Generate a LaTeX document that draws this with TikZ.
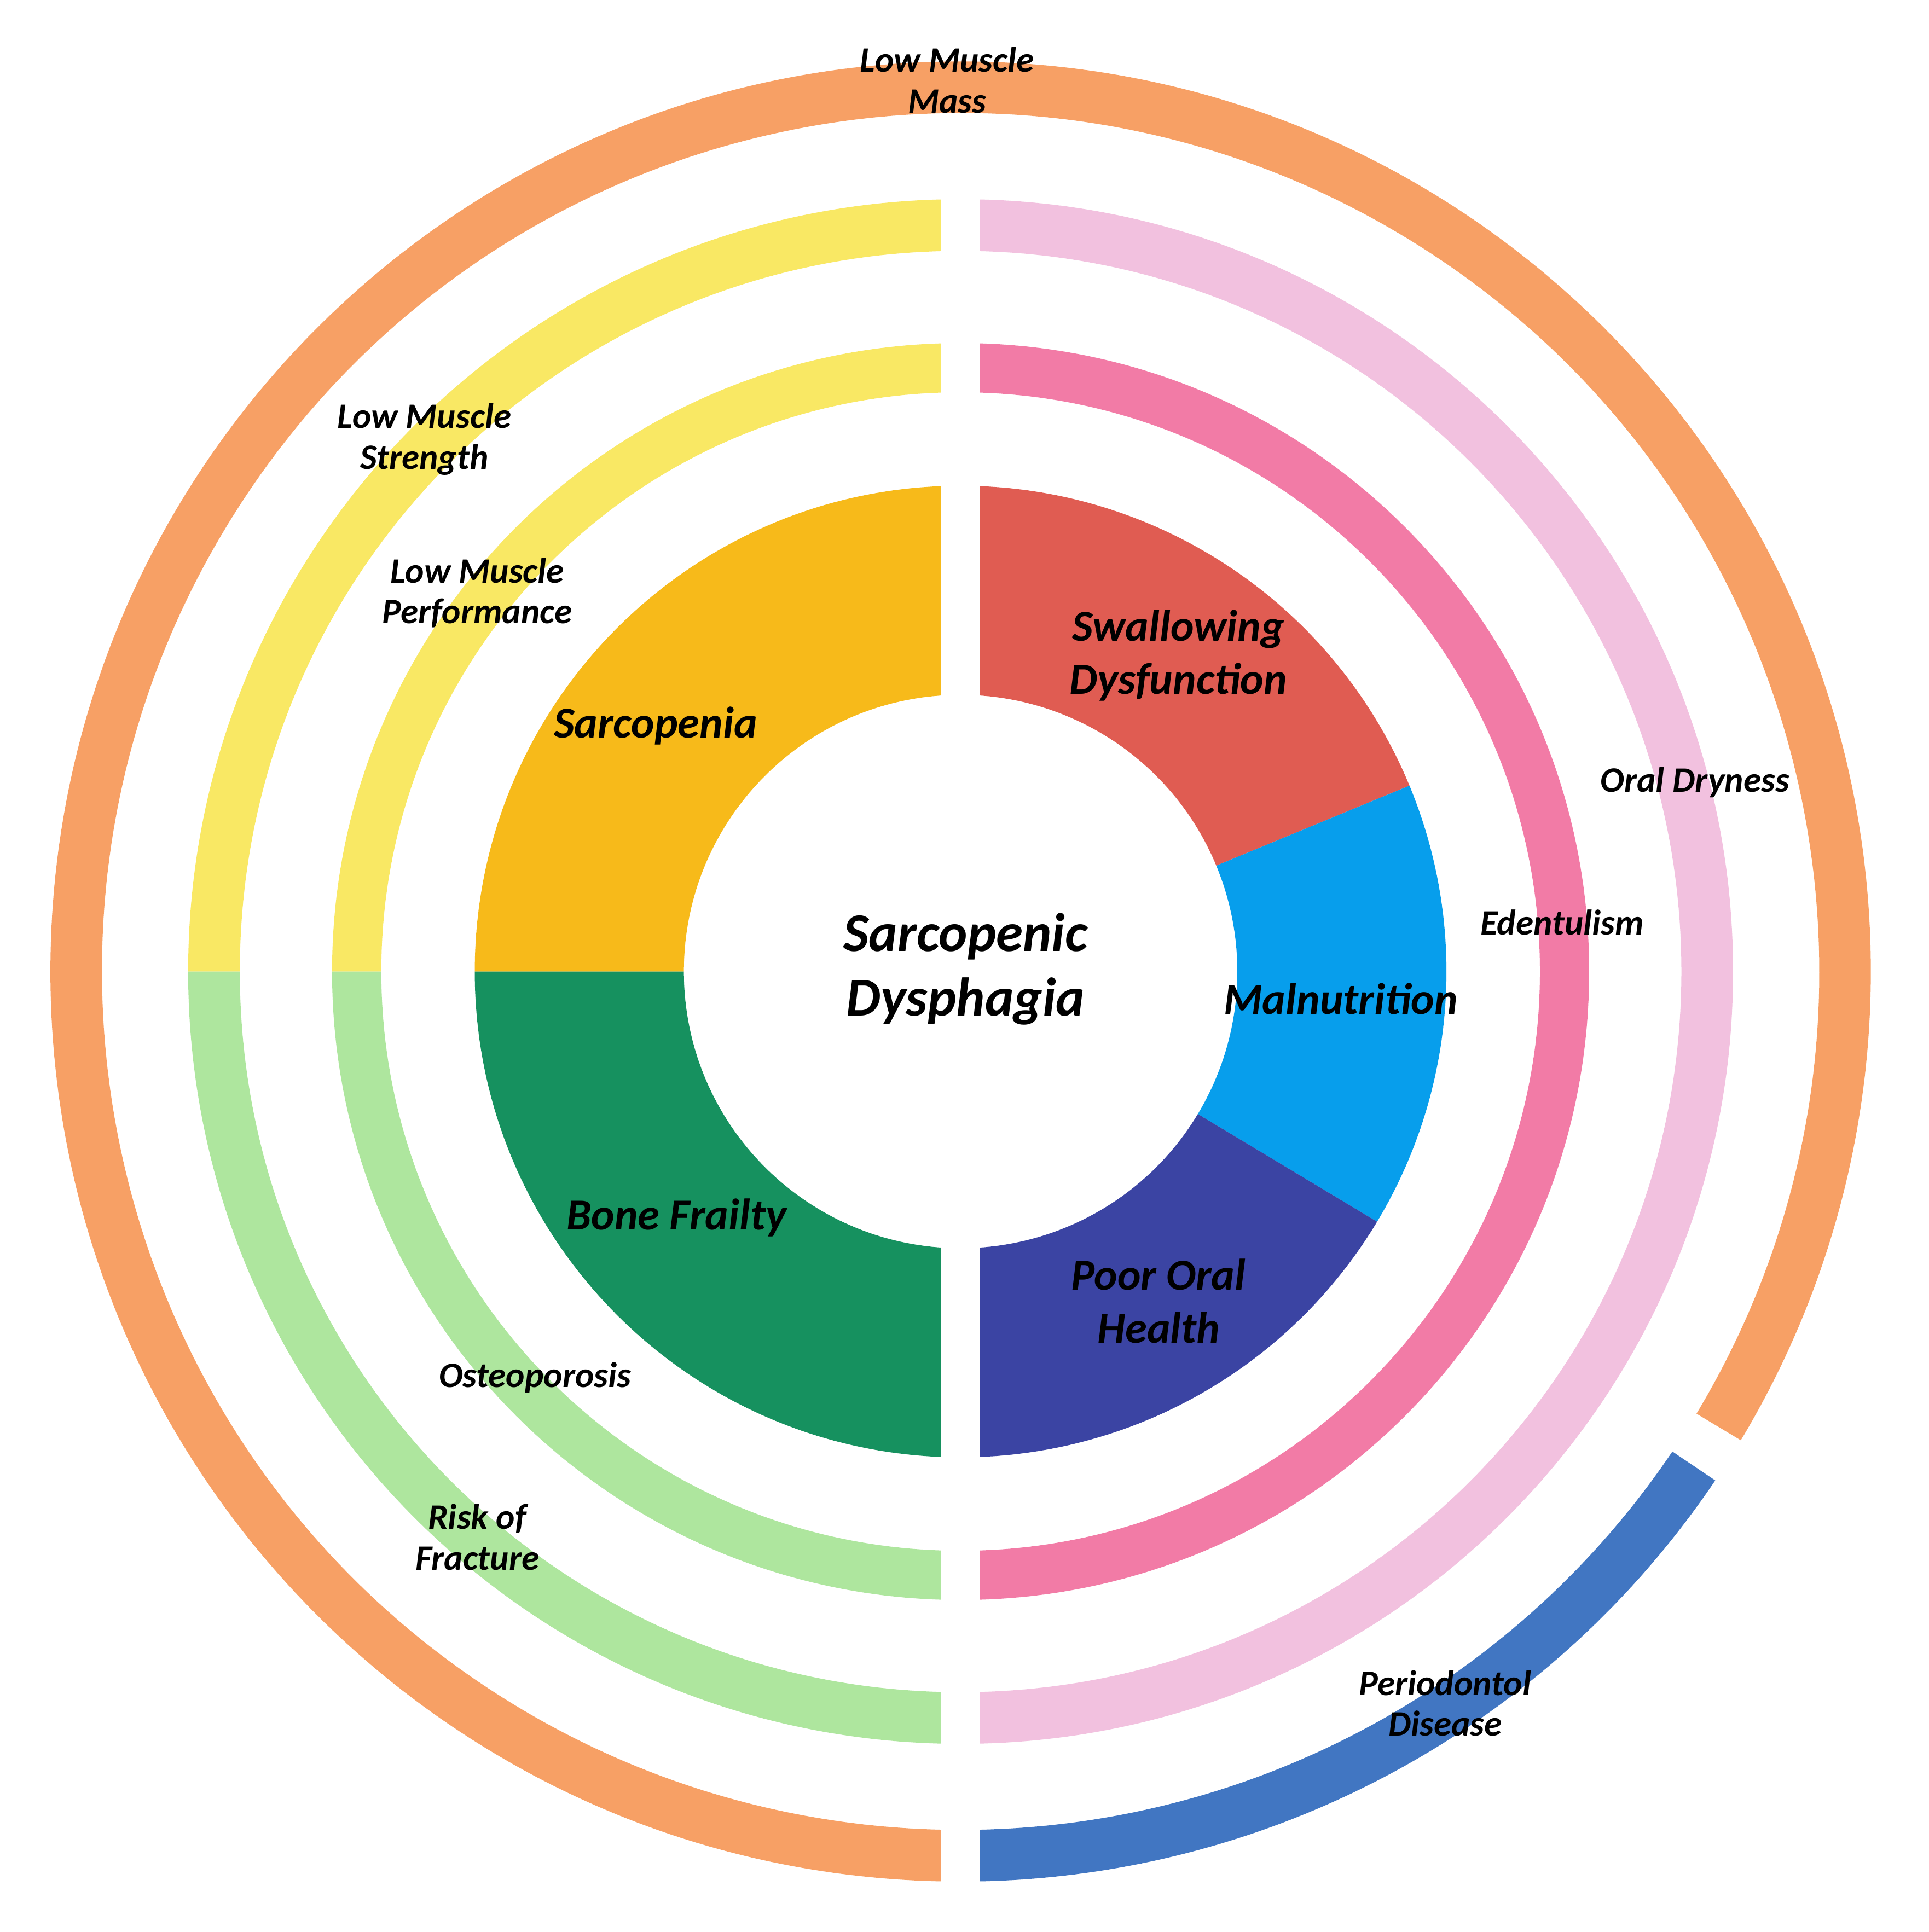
\documentclass[tikz,border=0pt]{standalone}
\usepackage{fontspec}
\setmainfont{Carlito}
\definecolor{sarc}{HTML}{F7BA1A}
\definecolor{bone}{HTML}{16915F}
\definecolor{swal}{HTML}{E05C52}
\definecolor{maln}{HTML}{079EEC}
\definecolor{poor}{HTML}{3B44A3}
\definecolor{yel}{HTML}{F9E864}
\definecolor{grn}{HTML}{AEE69E}
\definecolor{pnk}{HTML}{F27BA6}
\definecolor{lpk}{HTML}{F2C1DF}
\definecolor{org}{HTML}{F7A065}
\definecolor{blu}{HTML}{4176C2}
\newcommand{\sect}[5]{\fill[#5] (#1:#3) arc[start angle=#1,end angle=#2,radius=#3] -- (#2:#4) arc[start angle=#2,end angle=#1,radius=#4] -- cycle;}
\begin{document}
\begin{tikzpicture}[x=0.0127cm,y=0.0127cm,
  lab/.style={font=\bfseries\itshape\fontsize{10.5}{12}\selectfont,align=center},
  big/.style={font=\bfseries\itshape\fontsize{13}{15.5}\selectfont,align=center}]
\useasboundingbox[fill=white] (-781,-781) rectangle (787,790);
% inner disk
\sect{90}{180}{225}{395}{sarc}
\sect{180}{270}{225}{395}{bone}
\sect{22.5}{90}{225}{395}{swal}
\sect{-31}{22.5}{225}{395}{maln}
\sect{-90}{-31}{225}{395}{poor}
% ring 1
\sect{90}{180}{471}{511}{yel}
\sect{180}{270}{471}{511}{grn}
\sect{-90}{90}{471}{511}{pnk}
% ring 2
\sect{90}{180}{586}{628}{yel}
\sect{180}{270}{586}{628}{grn}
\sect{-90}{90}{586}{628}{lpk}
% outer ring
\sect{-31}{270}{698}{740}{org}
\sect{-90}{-34}{698}{740}{blu}
% vertical gap
\fill[white] (-16,-760) rectangle (16,660);
% labels
\node[lab] (lmm) at (-11,725) {Low Muscle\\Mass};
\node[lab] (lms) at (-436,433) {Low Muscle\\Strength};
\node[lab] (lmp) at (-393,308) {Low Muscle\\Performance};
\node[big] (sar) at (-248,200) {Sarcopenia};
\node[big] (swd) at (177,257) {Swallowing\\Dysfunction};
\node[lab] (odr) at (597,154) {Oral Dryness};
\node[lab] (ede) at (489,40) {Edentulism};
\node[big] (mal) at (309,-22) {Malnutrition};
\node[font=\bfseries\itshape\fontsize{16}{19}\selectfont,align=center] (sd) at (4,2) {Sarcopenic\\Dysphagia};
\node[big] (bf) at (-231,-200) {Bone Frailty};
\node[big] (poh) at (161,-268) {Poor Oral\\Health};
\node[lab] (ost) at (-346,-330) {Osteoporosis};
\node[lab] (rof) at (-393,-460) {Risk of\\Fracture};
\node[lab] (pd) at (394,-595) {Periodontol\\Disease};
\end{tikzpicture}
\end{document}
